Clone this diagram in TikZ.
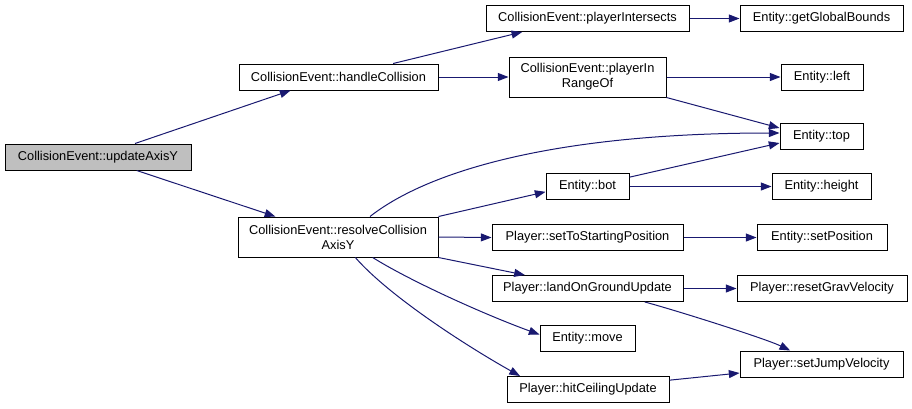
\documentclass[tikz,border=0pt]{standalone}
\usepackage{fontspec}
\setmainfont{Liberation Sans}
\usepackage{xcolor}
\usetikzlibrary{arrows.meta, positioning}

\definecolor{edgeblue}{HTML}{191970}
\definecolor{rootgray}{HTML}{BFBFBF}

\begin{document}
\begin{tikzpicture}[
  x=0.75pt,
  y=-0.75pt,
  fn/.style={
    rectangle,
    draw,
    line width=0.75pt,
    align=center,
    inner sep=1pt,
    minimum height=19.5pt,
    font=\fontsize{9.6}{11.2}\selectfont
  },
  root/.style={
    fn,
    fill=rootgray
  },
  tall/.style={
    minimum height=30pt
  },
  arrow/.style={
    -{Triangle[length=8pt, width=6pt]},
    draw=edgeblue,
    line width=0.75pt
  }
]
\useasboundingbox (0,0) rectangle (912,408);

% Caller and first level
\node[root, minimum width=139.5pt] (upd) at (98,157) {CollisionEvent::updateAxisY};
\node[fn, minimum width=149.25pt] (handle) at (338.5,77) {CollisionEvent::handleCollision};
\node[fn, tall, minimum width=150pt] (resolve) at (338,237) {CollisionEvent::resolveCollision\\AxisY};

% Callees of handleCollision
\node[fn, minimum width=152.25pt] (intersects) at (587.5,18.5) {CollisionEvent::playerIntersects};
\node[fn, tall, minimum width=117.75pt] (inrange) at (587.5,77) {CollisionEvent::playerIn\\RangeOf};

% Callees of resolveCollisionAxisY
\node[fn, minimum width=62.25pt] (bot) at (587.5,186.5) {Entity::bot};
\node[fn, minimum width=143.25pt] (start) at (587.5,237.5) {Player::setToStartingPosition};
\node[fn, minimum width=143.25pt] (land) at (587.5,288.5) {Player::landOnGroundUpdate};
\node[fn, minimum width=71.25pt] (move) at (587.5,338.5) {Entity::move};
\node[fn, minimum width=121.5pt] (ceiling) at (588,389.5) {Player::hitCeilingUpdate};

% Right column
\node[fn, minimum width=122.25pt] (bounds) at (821.5,18.5) {Entity::getGlobalBounds};
\node[fn, minimum width=61.5pt] (left) at (822,77) {Entity::left};
\node[fn, minimum width=62.25pt] (top) at (821.5,136) {Entity::top};
\node[fn, minimum width=74.25pt] (height) at (821.5,186.5) {Entity::height};
\node[fn, minimum width=97.5pt] (setpos) at (822,237.5) {Entity::setPosition};
\node[fn, minimum width=127.5pt] (resetgrav) at (822,288.5) {Player::resetGravVelocity};
\node[fn, minimum width=122.25pt] (jump) at (821.5,364) {Player::setJumpVelocity};

% Edges from updateAxisY
\draw[arrow] ([xshift=27.75pt]upd.north) -- ([xshift=-36pt]handle.south);
\draw[arrow] ([xshift=29pt]upd.south) -- ([xshift=-47pt]resolve.north);

% Edges from handleCollision
\draw[arrow] ([xshift=41pt]handle.north) -- ([xshift=-49pt]intersects.south);
\draw[arrow] (handle.east) -- (inrange.west);
\draw[arrow] (intersects.east) -- (bounds.west);
\draw[arrow] (inrange.east) -- (left.west);
\draw[arrow] (inrange.south east) -- ([yshift=6pt]top.west);

% Edges from resolveCollisionAxisY
\draw[arrow] ([xshift=24pt]resolve.north) .. controls +(60,-47) and +(-220,0) .. ([yshift=2.25pt]top.west);
\draw[arrow] (resolve.north east) -- ([yshift=-4pt]bot.west);
\draw[arrow] (resolve.east) -- (start.west);
\draw[arrow] (resolve.south east) -- ([xshift=-47pt]land.north);
\draw[arrow] ([xshift=26pt]resolve.south) .. controls +(40,25) and +(-50,-18) .. ([yshift=3pt]move.west);
\draw[arrow] ([xshift=13pt]resolve.south) .. controls +(35,40) and +(-50,-28) .. ([xshift=-51pt]ceiling.north);

% Second level edges
\draw[arrow] ([yshift=7pt]bot.east) -- ([yshift=-5.25pt]top.west);
\draw[arrow] (bot.east) -- (height.west);
\draw[arrow] (start.east) -- (setpos.west);
\draw[arrow] (land.east) -- (resetgrav.west);
\draw[arrow] ([xshift=43pt]land.south) .. controls +(30,8) and +(-25,-12) .. ([xshift=-23.5pt]jump.north);
\draw[arrow] ([yshift=7pt]ceiling.east) -- ([yshift=-6.75pt]jump.west);

\end{tikzpicture}
\end{document}
